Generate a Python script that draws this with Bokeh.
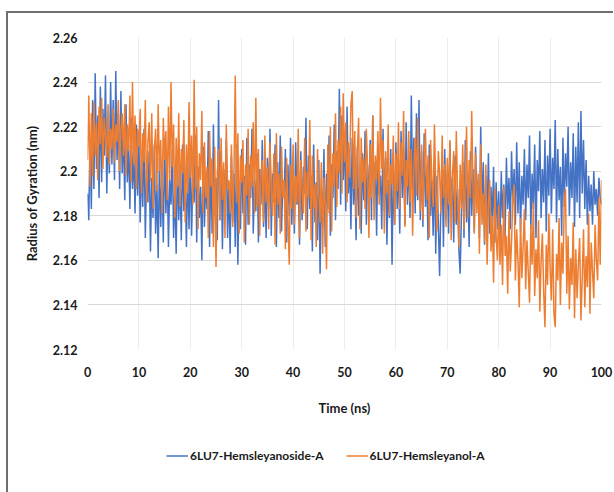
from bokeh.plotting import figure
from bokeh.layouts import column
from bokeh.models import (FixedTicker, CustomJSTickFormatter, Legend, LegendItem,
                          Range1d)
from bokeh.embed import file_html
from bokeh.resources import INLINE

# ---------------- data (0.25 ns sampling) ----------------
time_step_ns = 0.25

hemsleyanoside_a = [
    2.190, 2.178, 2.215, 2.183, 2.232, 2.192, 2.244, 2.201, 2.225, 2.188, 2.238, 2.195, 2.228, 2.207, 2.243, 2.190, 2.221, 2.199, 2.240, 2.203,
    2.232, 2.196, 2.245, 2.205, 2.226, 2.192, 2.236, 2.199, 2.218, 2.187, 2.230, 2.195, 2.212, 2.183, 2.224, 2.192, 2.209, 2.181, 2.221, 2.189,
    2.214, 2.177, 2.205, 2.184, 2.219, 2.170, 2.201, 2.186, 2.209, 2.164, 2.197, 2.179, 2.212, 2.172, 2.194, 2.161, 2.206, 2.175, 2.199, 2.168,
    2.215, 2.181, 2.203, 2.166, 2.196, 2.185, 2.210, 2.170, 2.193, 2.163, 2.207, 2.178, 2.198, 2.169, 2.212, 2.182, 2.195, 2.166, 2.204, 2.174,
    2.208, 2.171, 2.199, 2.186, 2.216, 2.168, 2.202, 2.179, 2.193, 2.160, 2.211, 2.175, 2.196, 2.183, 2.218, 2.166, 2.205, 2.172, 2.221, 2.180,
    2.197, 2.169, 2.232, 2.178, 2.209, 2.165, 2.201, 2.184, 2.214, 2.170, 2.195, 2.163, 2.207, 2.177, 2.199, 2.166, 2.212, 2.158, 2.193, 2.174,
    2.210, 2.181, 2.198, 2.167, 2.215, 2.176, 2.203, 2.188, 2.219, 2.172, 2.196, 2.182, 2.208, 2.168, 2.201, 2.185, 2.214, 2.175, 2.197, 2.170,
    2.206, 2.183, 2.219, 2.171, 2.199, 2.186, 2.212, 2.166, 2.204, 2.179, 2.216, 2.173, 2.196, 2.188, 2.210, 2.168, 2.203, 2.180, 2.215, 2.176,
    2.200, 2.172, 2.213, 2.185, 2.196, 2.167, 2.209, 2.178, 2.202, 2.190, 2.224, 2.174, 2.207, 2.183, 2.198, 2.164, 2.212, 2.177, 2.195, 2.169,
    2.205, 2.154, 2.192, 2.175, 2.210, 2.166, 2.199, 2.183, 2.216, 2.171, 2.203, 2.188, 2.221, 2.178, 2.209, 2.192, 2.237, 2.185, 2.225, 2.196,
    2.218, 2.182, 2.229, 2.190, 2.206, 2.174, 2.215, 2.185, 2.200, 2.169, 2.211, 2.180, 2.195, 2.172, 2.208, 2.187, 2.218, 2.176, 2.203, 2.183,
    2.214, 2.178, 2.225, 2.186, 2.204, 2.171, 2.212, 2.189, 2.198, 2.174, 2.219, 2.182, 2.206, 2.167, 2.196, 2.179, 2.210, 2.158, 2.201, 2.176,
    2.213, 2.183, 2.204, 2.172, 2.218, 2.188, 2.209, 2.176, 2.222, 2.185, 2.207, 2.179, 2.234, 2.192, 2.215, 2.181, 2.226, 2.187, 2.232, 2.178,
    2.209, 2.175, 2.217, 2.184, 2.201, 2.169, 2.212, 2.180, 2.196, 2.171, 2.205, 2.163, 2.198, 2.177, 2.153, 2.186, 2.203, 2.166, 2.210, 2.178,
    2.199, 2.172, 2.213, 2.183, 2.197, 2.168, 2.207, 2.176, 2.192, 2.165, 2.154, 2.181, 2.204, 2.170, 2.214, 2.177, 2.196, 2.166, 2.209, 2.180,
    2.201, 2.173, 2.211, 2.185, 2.196, 2.170, 2.220, 2.181, 2.204, 2.167, 2.198, 2.178, 2.208, 2.172, 2.193, 2.176, 2.202, 2.168, 2.195, 2.174,
    2.191, 2.168, 2.200, 2.179, 2.194, 2.171, 2.206, 2.183, 2.197, 2.174, 2.209, 2.186, 2.201, 2.176, 2.213, 2.181, 2.204, 2.173, 2.198, 2.185,
    2.210, 2.178, 2.203, 2.188, 2.216, 2.174, 2.199, 2.183, 2.212, 2.170, 2.205, 2.191, 2.218, 2.179, 2.201, 2.186, 2.214, 2.173, 2.207, 2.189,
    2.219, 2.181, 2.206, 2.192, 2.223, 2.177, 2.210, 2.187, 2.202, 2.171, 2.215, 2.184, 2.208, 2.193, 2.220, 2.180, 2.204, 2.188, 2.217, 2.175,
    2.211, 2.186, 2.222, 2.179, 2.227, 2.190, 2.214, 2.183, 2.205, 2.176, 2.198, 2.182, 2.194, 2.176, 2.200, 2.185, 2.192, 2.180, 2.197, 2.188,
    2.185,
]

hemsleyanol_a = [
    2.205, 2.234, 2.193, 2.226, 2.198, 2.231, 2.207, 2.222, 2.196, 2.229, 2.212, 2.233, 2.201, 2.224, 2.215, 2.206, 2.230, 2.203, 2.219, 2.210,
    2.228, 2.204, 2.221, 2.213, 2.232, 2.200, 2.218, 2.226, 2.207, 2.230, 2.198, 2.221, 2.209, 2.234, 2.195, 2.240, 2.203, 2.225, 2.192, 2.219,
    2.211, 2.228, 2.190, 2.217, 2.204, 2.232, 2.186, 2.213, 2.222, 2.195, 2.226, 2.183, 2.209, 2.219, 2.191, 2.230, 2.200, 2.214, 2.181, 2.224,
    2.205, 2.218, 2.187, 2.229, 2.196, 2.240, 2.202, 2.221, 2.179, 2.215, 2.193, 2.226, 2.184, 2.210, 2.199, 2.223, 2.177, 2.212, 2.190, 2.231,
    2.197, 2.216, 2.185, 2.241, 2.192, 2.220, 2.174, 2.208, 2.196, 2.227, 2.181, 2.213, 2.188, 2.202, 2.170, 2.218, 2.193, 2.206, 2.166, 2.211,
    2.157, 2.199, 2.210, 2.178, 2.215, 2.187, 2.204, 2.170, 2.221, 2.192, 2.196, 2.181, 2.212, 2.175, 2.200, 2.243, 2.186, 2.217, 2.172, 2.207,
    2.195, 2.214, 2.168, 2.203, 2.189, 2.219, 2.176, 2.207, 2.193, 2.222, 2.181, 2.233, 2.184, 2.210, 2.171, 2.198, 2.205, 2.177, 2.216, 2.186,
    2.202, 2.174, 2.213, 2.191, 2.180, 2.208, 2.167, 2.217, 2.185, 2.199, 2.172, 2.211, 2.188, 2.196, 2.165, 2.206, 2.179, 2.158, 2.203, 2.183,
    2.212, 2.176, 2.198, 2.186, 2.219, 2.170, 2.205, 2.191, 2.181, 2.215, 2.173, 2.200, 2.188, 2.223, 2.169, 2.207, 2.183, 2.194, 2.166, 2.210,
    2.190, 2.177, 2.204, 2.163, 2.197, 2.185, 2.156, 2.212, 2.181, 2.220, 2.173, 2.208, 2.193, 2.226, 2.184, 2.214, 2.199, 2.229, 2.190, 2.235,
    2.204, 2.222, 2.186, 2.213, 2.197, 2.230, 2.236, 2.192, 2.218, 2.179, 2.209, 2.224, 2.174, 2.215, 2.195, 2.206, 2.183, 2.219, 2.201, 2.170,
    2.212, 2.188, 2.225, 2.178, 2.207, 2.196, 2.218, 2.185, 2.233, 2.201, 2.214, 2.172, 2.209, 2.190, 2.221, 2.180, 2.203, 2.194, 2.216, 2.176,
    2.208, 2.191, 2.222, 2.183, 2.213, 2.198, 2.227, 2.175, 2.205, 2.193, 2.218, 2.186, 2.210, 2.171, 2.201, 2.215, 2.189, 2.224, 2.195, 2.182,
    2.212, 2.178, 2.204, 2.219, 2.187, 2.207, 2.170, 2.214, 2.196, 2.184, 2.221, 2.192, 2.173, 2.209, 2.199, 2.181, 2.216, 2.188, 2.203, 2.175,
    2.206, 2.185, 2.214, 2.169, 2.198, 2.209, 2.177, 2.218, 2.190, 2.166, 2.203, 2.183, 2.212, 2.174, 2.196, 2.220, 2.179, 2.205, 2.188, 2.227,
    2.193, 2.172, 2.208, 2.181, 2.199, 2.163, 2.212, 2.176, 2.190, 2.168, 2.203, 2.158, 2.185, 2.196, 2.164, 2.180, 2.150, 2.192, 2.171, 2.160,
    2.185, 2.158, 2.176, 2.149, 2.193, 2.162, 2.171, 2.145, 2.182, 2.155, 2.168, 2.188, 2.194, 2.151, 2.174, 2.160, 2.139, 2.179, 2.152, 2.166,
    2.183, 2.147, 2.169, 2.155, 2.141, 2.176, 2.158, 2.186, 2.144, 2.165, 2.152, 2.178, 2.137, 2.160, 2.172, 2.146, 2.130, 2.167, 2.149, 2.181,
    2.156, 2.142, 2.174, 2.136, 2.130, 2.163, 2.151, 2.179, 2.140, 2.168, 2.154, 2.186, 2.192, 2.145, 2.171, 2.138, 2.161, 2.149, 2.177, 2.134,
    2.165, 2.143, 2.158, 2.170, 2.133, 2.152, 2.174, 2.139, 2.162, 2.148, 2.181, 2.136, 2.168, 2.155, 2.143, 2.176, 2.160, 2.151, 2.188, 2.158,
    2.196,
]

series_names = ["6LU7-Hemsleyanoside-A", "6LU7-Hemsleyanol-A"]
series_colors = ["#4472C4", "#ED7D31"]
y_ticks = [2.12, 2.14, 2.16, 2.18, 2.20, 2.22, 2.24, 2.26]
x_ticks = [0, 10, 20, 30, 40, 50, 60, 70, 80, 90, 100]
x_title = "Time (ns)"
y_title = "Radius of Gyration (nm)"

time_a = [i * time_step_ns for i in range(len(hemsleyanoside_a))]
time_b = [i * time_step_ns for i in range(len(hemsleyanol_a))]

FONT = "Lato"
TXT = "#1a1a1a"
FRAME_CSS = "2px solid #6e6e6e"

# ---------------- main chart ----------------
p = figure(frame_width=512, frame_height=310, output_backend="svg", toolbar_location=None,
           x_range=Range1d(0, 100), y_range=Range1d(2.12, 2.26),
           min_border_left=79, min_border_right=14, min_border_top=24,
           min_border_bottom=71)
p.outline_line_color = None
p.background_fill_color = "white"
p.border_fill_color = "white"
p.styles = {"border-left": FRAME_CSS, "border-top": FRAME_CSS,
            "margin-left": "6px", "margin-top": "11px"}

r1 = p.line(time_a, hemsleyanoside_a, line_color=series_colors[0], line_width=1.5)
r2 = p.line(time_b, hemsleyanol_a, line_color=series_colors[1], line_width=1.5)

p.xaxis.ticker = FixedTicker(ticks=x_ticks)
p.yaxis.ticker = FixedTicker(ticks=y_ticks)
p.yaxis.formatter = CustomJSTickFormatter(code="return Number(tick.toFixed(2)).toString();")
for ax in (p.xaxis[0], p.yaxis[0]):
    ax.axis_line_color = None
    ax.major_tick_line_color = None
    ax.minor_tick_line_color = None
    ax.major_tick_out = 0
    ax.major_tick_in = 0
    ax.major_label_text_font = FONT
    ax.major_label_text_font_style = "bold"
    ax.major_label_text_font_size = "12.5px"
    ax.major_label_text_color = TXT
    ax.axis_label_text_font = FONT
    ax.axis_label_text_font_style = "bold"
    ax.axis_label_text_font_size = "13px"
    ax.axis_label_text_color = TXT
p.xaxis.major_label_standoff = 17
p.yaxis.major_label_standoff = 10
p.yaxis.axis_label = y_title
p.yaxis.axis_label_standoff = 10
p.xaxis.axis_label = x_title
p.xaxis.axis_label_standoff = 20

p.xgrid.grid_line_color = "#ececec"
p.ygrid.grid_line_color = "#d9d9d9"
p.xgrid.grid_line_width = 1
p.ygrid.grid_line_width = 1

# ---------------- legend strip below the chart ----------------
# The same series are drawn here only so the legend has real glyphs; they lie
# outside this strip's y range, so only their legend swatches are visible.
leg = figure(width=605, height=74, output_backend="svg", toolbar_location=None,
             x_axis_location=None, y_axis_location=None,
             x_range=Range1d(0, 1), y_range=Range1d(0, 1), min_border=0)
leg.outline_line_color = None
leg.background_fill_color = "white"
leg.border_fill_color = "white"
leg.grid.visible = False
leg.styles = {"border-left": FRAME_CSS, "margin-left": "6px"}

k1 = leg.line(time_a, hemsleyanoside_a, line_color=series_colors[0], line_width=1.5)
k2 = leg.line(time_b, hemsleyanol_a, line_color=series_colors[1], line_width=1.5)

legend = Legend(items=[LegendItem(label=series_names[0], renderers=[k1]),
                       LegendItem(label=series_names[1], renderers=[k2])],
                orientation="horizontal", location="center_left",
                label_text_font=FONT, label_text_font_style="bold",
                label_text_font_size="12px", label_text_color=TXT,
                glyph_width=22, glyph_height=14, label_height=14,
                label_standoff=2, spacing=22,
                border_line_color=None, background_fill_alpha=0,
                margin=79, padding=2)
leg.add_layout(legend)

page = column(p, leg, spacing=0)

open("out.html", "w").write(file_html(page, INLINE))
